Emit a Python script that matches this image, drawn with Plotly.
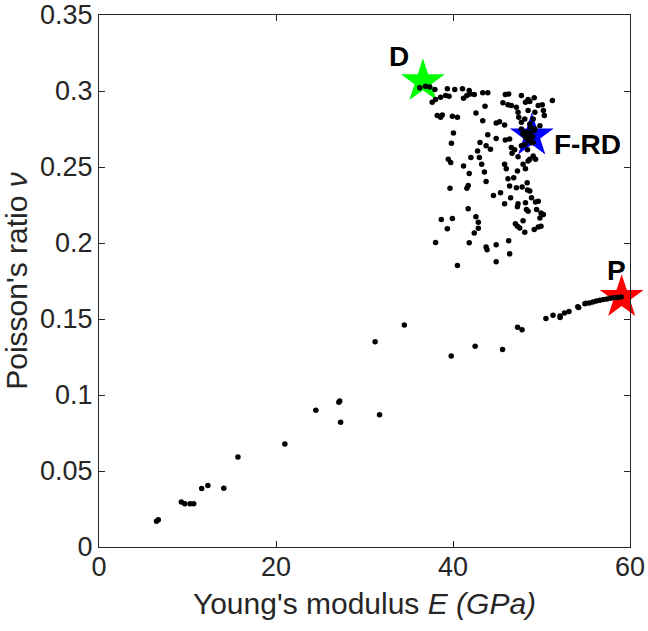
import plotly.graph_objects as go

# lower branch: E (GPa), nu
low_E = [6.5, 6.7, 9.3, 9.7, 10.3, 10.7, 11.6, 12.3, 14.1, 15.7, 21.0, 24.5, 27.1, 27.2,
         27.3, 31.2, 31.7, 34.5, 39.8, 42.5, 45.6, 47.3, 47.8, 50.5, 51.3, 52.1, 52.1,
         52.6, 53.1, 54.1, 54.2, 54.9, 55.0, 55.4, 55.8, 56.2, 56.6, 57.0, 57.4, 57.8,
         58.2, 58.6, 59.0]
low_nu = [0.017, 0.018, 0.0296, 0.0285, 0.0285, 0.0285, 0.0385, 0.0404, 0.0387, 0.0592,
          0.0678, 0.0899, 0.0952, 0.0960, 0.082, 0.135, 0.087, 0.146, 0.1257, 0.132,
          0.130, 0.1446, 0.1429, 0.1504, 0.1524, 0.151, 0.152, 0.154, 0.155, 0.158,
          0.1575, 0.160, 0.1603, 0.1605, 0.1612, 0.1618, 0.1623, 0.1628, 0.1632, 0.1636,
          0.1639, 0.1642, 0.1644]

# upper cluster
up_E = [36.24, 36.89, 37.38, 37.95, 37.65, 38.03, 38.60, 39.17, 39.55, 39.36, 40.20,
        41.07, 41.19, 41.57, 41.95, 42.40, 41.83, 43.36, 43.93, 45.91, 46.29, 45.64,
        46.21, 46.59, 47.73, 48.49, 49.18, 51.23, 47.16, 47.35, 47.43, 47.73, 48.19,
        48.68, 48.49, 49.25, 49.63, 50.09, 50.21, 50.32, 43.62, 38.22, 38.60, 38.79,
        39.93, 40.50, 42.59, 43.36, 44.88, 45.26, 45.83, 48.11, 48.68, 49.06, 49.25,
        49.82, 40.05, 39.82, 43.93, 43.05, 43.74, 44.23, 44.88, 45.91, 46.40,
        47.73, 47.92, 48.19, 48.49, 48.68, 48.11, 47.73, 49.06, 48.42, 46.59, 46.97,
        46.67, 47.35, 48.68, 49.06, 49.33, 42.02, 42.78, 42.98, 39.47, 39.74, 41.19,
        41.83, 43.24, 43.55, 45.83, 46.02, 47.28, 47.92, 48.19, 48.49, 43.74, 46.21,
        46.86, 39.66, 41.57, 41.72, 46.40, 47.16, 47.81, 48.38, 48.42, 48.68, 44.57,
        45.37, 45.83, 46.51, 47.35, 47.28, 48.19, 48.30, 48.49, 48.87, 49.33, 49.63,
        49.44, 49.94, 50.21, 49.82, 41.72, 42.59, 42.86, 42.86, 42.40, 38.68, 39.93,
        39.36, 47.05, 47.28, 47.54, 47.92, 48.11, 49.18, 49.63, 49.94, 38.03, 41.83,
        43.74, 43.85, 44.88, 46.29, 46.40, 40.50, 44.88,
        48.7, 49.0, 48.5, 49.2, 48.8, 48.3, 48.9, 48.6]
up_nu = [0.3021, 0.3032, 0.3026, 0.3010, 0.2926, 0.2944, 0.2959, 0.2970, 0.2966, 0.3014,
         0.3010, 0.3014, 0.2953, 0.2970, 0.2981, 0.2977, 0.3003, 0.2988, 0.2988, 0.2977,
         0.2981, 0.2922, 0.2909, 0.2904, 0.2970, 0.2944, 0.2955, 0.2937, 0.2893, 0.2860,
         0.2827, 0.2794, 0.2926, 0.2931, 0.2871, 0.2860, 0.2904, 0.2909, 0.2871, 0.2838,
         0.2900, 0.2838, 0.2827, 0.2842, 0.2834, 0.2827, 0.2856, 0.2805, 0.2789, 0.2798,
         0.2776, 0.2816, 0.2783, 0.2816, 0.2750, 0.2772, 0.2723, 0.2657, 0.2712, 0.2661,
         0.2639, 0.2617, 0.2688, 0.2677, 0.2684,
         0.2750, 0.2717, 0.2695, 0.2728, 0.2672, 0.2650, 0.2639, 0.2661, 0.2613, 0.2628,
         0.2613, 0.2591, 0.2567, 0.2551, 0.2573, 0.2551, 0.2562, 0.2606, 0.2562, 0.2551,
         0.2529, 0.2507, 0.2458, 0.2518, 0.2467, 0.2518, 0.2489, 0.2474, 0.2518, 0.2489,
         0.2540, 0.2405, 0.2423, 0.2430, 0.2361, 0.2361, 0.2379, 0.2375, 0.2364, 0.2368,
         0.2397, 0.2348, 0.2342, 0.2313, 0.2330, 0.2258, 0.2297, 0.2258, 0.2238, 0.2264,
         0.2220, 0.2209, 0.2297, 0.2269, 0.2275, 0.2220, 0.2198, 0.2187, 0.2165, 0.2225,
         0.2172, 0.2136, 0.2097, 0.2066, 0.2154, 0.2161, 0.2094, 0.2127, 0.2110, 0.2099,
         0.2147, 0.2070, 0.2088, 0.2105, 0.2110, 0.2004, 0.2002, 0.1973, 0.1955, 0.1988,
         0.2015, 0.1929, 0.1852, 0.1876,
         0.2720, 0.2700, 0.2680, 0.2740, 0.2760, 0.2730, 0.2660, 0.2690]

# special states
star_names = ["D", "F-RD", "P"]
star_E = [36.6, 48.9, 59.06]
star_nu = [0.3063, 0.2706, 0.1643]
star_colors = ["#00ff00", "#0000ff", "#ff0000"]
# label anchor positions (data units)
label_E = [33.9, 55.25, 58.5]
label_nu = [0.323, 0.2645, 0.1816]

FONT = "Liberation Sans"
GREY = "#262626"

fig = go.Figure()

fig.add_trace(go.Scatter(
    x=star_E, y=star_nu, mode="markers",
    marker=dict(symbol="star", size=33, color=star_colors, line=dict(width=0)),
    cliponaxis=False, showlegend=False, hoverinfo="skip"
))

fig.add_trace(go.Scatter(
    x=low_E + up_E, y=low_nu + up_nu, mode="markers",
    marker=dict(size=5.5, color="black", line=dict(width=0)),
    cliponaxis=False, showlegend=False
))

for name, ex, ny in zip(star_names, label_E, label_nu):
    fig.add_annotation(x=ex, y=ny, text="<b>%s</b>" % name, showarrow=False,
                       font=dict(size=28, color="black", family=FONT))

axis_style = dict(
    showgrid=False, zeroline=False, showline=True, linecolor=GREY, linewidth=1,
    mirror="ticks", ticks="inside", ticklen=6, tickcolor=GREY, automargin=False,
    ticklabeloverflow="allow",
    tickfont=dict(size=27, color=GREY, family=FONT),
)

fig.update_xaxes(range=[0, 60], tickvals=[0, 20, 40, 60], ticklabelstandoff=-4,
                 title=dict(text="Young's modulus <i>E (GPa)</i>", standoff=11,
                            font=dict(size=30, color=GREY, family=FONT)),
                 **axis_style)
fig.update_yaxes(range=[0, 0.35], tickvals=[0, 0.05, 0.1, 0.15, 0.2, 0.25, 0.3, 0.35],
                 ticktext=["0", "0.05", "0.1", "0.15", "0.2", "0.25", "0.3", "0.35"],
                 title=dict(text="Poisson's ratio <i>ν</i>", standoff=23,
                            font=dict(size=30, color=GREY, family=FONT)),
                 **axis_style)

fig.update_layout(
    width=648, height=631,
    margin=dict(l=99, r=18, t=15, b=84),
    plot_bgcolor="white", paper_bgcolor="white",
)

# drop the page's default body margin so the figure sits at the window corner
fig.write_html("out.html", config={"displayModeBar": False},
               post_script="document.body.style.margin='0';")
